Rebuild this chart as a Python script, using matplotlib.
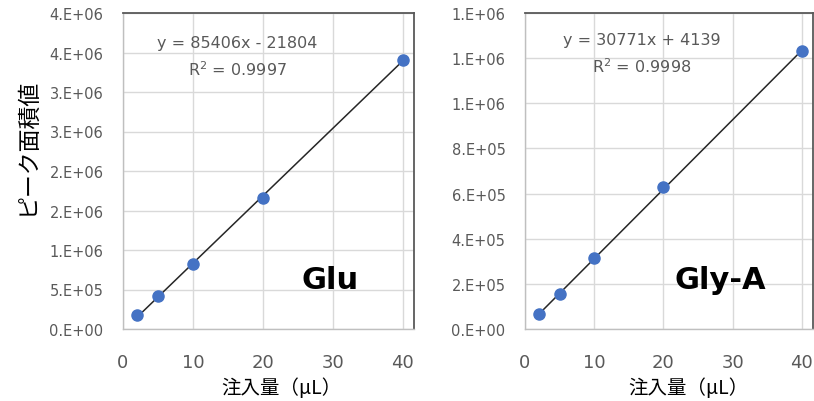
import numpy as np
import matplotlib.pyplot as plt

plt.rcParams['font.family'] = ['DejaVu Sans', 'Noto Sans CJK JP']

# injection volume (uL)
vol = np.array([2, 5, 10, 20, 40])

# peak areas
glu_area = np.array([175000, 415000, 825000, 1660000, 3410000])
gly_area = np.array([66000, 155000, 313000, 628000, 1230000])

# trendline coefficients (slope, intercept) and R^2
glu_fit = (85406, -21804, 0.9997)
gly_fit = (30771, 4139, 0.9998)

glu_ticks = [0, 5e5, 1e6, 1.5e6, 2e6, 2.5e6, 3e6, 3.5e6, 4e6]
glu_labels = ['0.E+00', '5.E+05', '1.E+06', '2.E+06', '2.E+06',
              '3.E+06', '3.E+06', '4.E+06', '4.E+06']
gly_ticks = [0, 2e5, 4e5, 6e5, 8e5, 1e6, 1.2e6, 1.4e6]
gly_labels = ['0.E+00', '2.E+05', '4.E+05', '6.E+05', '8.E+05',
              '1.E+06', '1.E+06', '1.E+06']

x_ticks = [0, 10, 20, 30, 40]

gray = '#595959'
blue = '#4472C4'
cjk = ['Noto Sans CJK JP', 'DejaVu Sans']


def panel(ax, y, fit, yticks, ylabels, name, name_x, eq_x, eq_y, xlab_x):
    ax.set_xlim(0, 41.6)
    ax.set_ylim(yticks[0], yticks[-1])
    ax.grid(True, color='#d9d9d9', lw=1)
    ax.set_axisbelow(True)
    for s in ['top', 'right']:
        ax.spines[s].set_color(gray)
        ax.spines[s].set_linewidth(1.3)
    for s in ['left', 'bottom']:
        ax.spines[s].set_color('#bfbfbf')
        ax.spines[s].set_linewidth(1.0)
    ax.set_xticks(x_ticks)
    ax.set_yticks(yticks)
    ax.set_yticklabels(ylabels)
    ax.tick_params(length=0, colors=gray)
    ax.tick_params(axis='y', labelsize=10.5, pad=14)
    ax.tick_params(axis='x', labelsize=13, pad=17)

    a, b, r2 = fit
    xs = np.array([vol[0], vol[-1]])
    ax.plot(xs, a * xs + b, color='#262626', lw=1.1, zorder=3)
    ax.plot(vol, y, 'o', color=blue, ms=8, zorder=4)

    sign = '-' if b < 0 else '+'
    ax.text(eq_x, eq_y, f'y = {a}x {sign} {abs(b)}', transform=ax.transAxes,
            ha='center', va='center', color=gray, fontsize=11.5)
    ax.text(eq_x, eq_y - 0.083, f'R$^2$ = {r2}', transform=ax.transAxes,
            ha='center', va='center', color=gray, fontsize=11.5)
    ax.text(name_x, 0.158, name, transform=ax.transAxes, ha='center',
            va='center', fontsize=22, fontweight='bold')
    ax.set_xlabel('注入量（μL）', fontsize=14, family=cjk)
    ax.xaxis.set_label_coords(xlab_x, -0.152)


fig = plt.figure(figsize=(8.14, 4.02), dpi=100)
ax1 = fig.add_axes([123 / 814, 72 / 402, 291 / 814, 316 / 402])
ax2 = fig.add_axes([525 / 814, 72 / 402, 288 / 814, 316 / 402])

panel(ax1, glu_area, glu_fit, glu_ticks, glu_labels, 'Glu', 0.71, 0.392, 0.908, 0.546)
panel(ax2, gly_area, gly_fit, gly_ticks, gly_labels, 'Gly-A', 0.677, 0.406, 0.915, 0.566)

ax1.set_ylabel('ピーク面積値', fontsize=16.5, family=cjk)
ax1.yaxis.set_label_coords(-0.29, 0.58)

fig.savefig('out.png', dpi=100)
